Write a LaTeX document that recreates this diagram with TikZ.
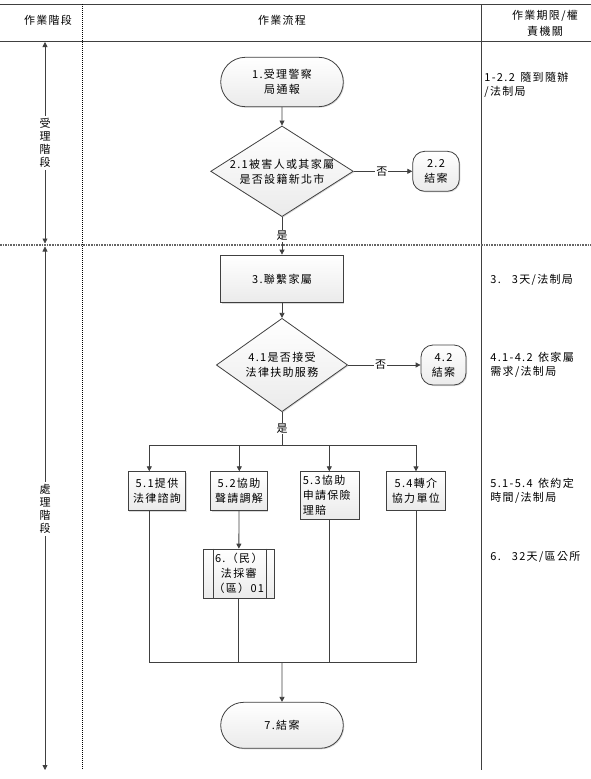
\documentclass[tikz,border=0pt]{standalone}
\usepackage{fontspec}
\setmainfont{Noto Sans CJK TC}[LetterSpace=12]
\usetikzlibrary{arrows.meta,shapes.geometric,shapes.misc,shadows}
\definecolor{lc}{HTML}{404040}

\begin{document}
\begin{tikzpicture}[x=1pt,y=-1pt,line width=0.8pt,
  every node/.style={font=\fontsize{11}{15}\selectfont},
  box/.style={draw=lc, top color=white, bottom color=gray!16, inner sep=0pt, align=center,
    drop shadow={shadow xshift=1pt, shadow yshift=-1pt, fill=black, opacity=.15}},
  term/.style={box, rounded rectangle},
  stopbox/.style={box, rounded corners=12pt},
  dec/.style={box, diamond},
  lbl/.style={fill=white, inner sep=1pt},
  rt/.style={anchor=west, align=left, inner sep=0pt, font=\fontsize{11}{14}\selectfont},
  arr/.style={draw=lc, -{Triangle[length=5pt,width=5pt]}},
  sarr/.style={draw=lc, {Triangle[length=5pt,width=5pt]}-{Triangle[length=5pt,width=5pt]}},
  ln/.style={draw=lc}]
\useasboundingbox (0,0) rectangle (591,779);
\draw[lc] (0,4) -- (591,4);
\draw[lc] (0,41.7) -- (591,41.7);
\draw[black, densely dotted, line width=1pt] (82.3,4) -- (82.3,770);
\draw[lc] (481.7,4) -- (481.7,770);
\draw[gray!80!black, densely dotted, line width=1.6pt] (0,245) -- (591,245);
\node (h1) at (48,20) {作業階段};
\node (h2) at (282,20) {作業流程};
\node[align=center, font=\fontsize{11}{16}\selectfont] (h3) at (545,23) {作業期限/權\\責機關};
\coordinate (s1a) at (45,42);
\coordinate (s1b) at (45,243.5);
\coordinate (s2a) at (45,246.5);
\coordinate (s2b) at (45,770);
\draw[sarr] (s1a) -- (s1b);
\draw[sarr] (s2a) -- (s2b);
\node[fill=white, inner sep=2pt, align=center, font=\fontsize{11}{13}\selectfont] (st1) at (45,143) {受\\理\\階\\段};
\node[fill=white, inner sep=2pt, align=center, font=\fontsize{11}{13}\selectfont] (st2) at (45,509) {處\\理\\階\\段};

\node[term, minimum width=122.6pt, minimum height=49.4pt] (n1) at (282,82) {1.受理警察\\局通報};
\node[dec, minimum width=142.6pt, minimum height=90.7pt] (d21) at (282,171.3) {};
\node[align=center, inner sep=0pt] (d21t) at (d21) {2.1被害人或其家屬\\是否設籍新北市};
\node[stopbox, minimum width=46.6pt, minimum height=40pt] (n22) at (436,171.3) {2.2\\結案};
\node[box, minimum width=122.6pt, minimum height=47.7pt] (n3) at (282,278.9) {3.聯繫家屬};
\node[dec, minimum width=131.3pt, minimum height=93.4pt] (d41) at (282,365) {};
\node[align=center, inner sep=0pt] (d41t) at (d41) {4.1是否接受\\法律扶助服務};
\node[stopbox, minimum width=45pt, minimum height=40pt] (n42) at (443.5,365) {4.2\\結案};
\node[box, minimum width=57.4pt, minimum height=39pt] (b51) at (157,491.2) {5.1提供\\法律諮詢};
\node[box, minimum width=56.6pt, minimum height=39pt] (b52) at (239,491.2) {5.2協助\\聲請調解};
\node[box, minimum width=58.3pt, minimum height=47.6pt, text width=54.3pt, inner xsep=2pt, align=left] (b53) at (329.9,495.5) {5.3協助\\申請保險\\理賠};
\node[box, minimum width=58.3pt, minimum height=38.3pt] (b54) at (415.9,490.9) {5.4轉介\\協力單位};
\node[box, minimum width=71pt, minimum height=49.3pt] (n6) at (238.8,573.7) {6.（民）\\法採審\\（區）01};
\draw[ln] ([xshift=10.7pt]n6.north west) -- ([xshift=10.7pt]n6.south west);
\draw[ln] ([xshift=-8.6pt]n6.north east) -- ([xshift=-8.6pt]n6.south east);
\node[term, minimum width=122.6pt, minimum height=46pt] (n7) at (282,725.3) {7.結案};

\draw[arr] (n1) -- (d21);
\draw[arr] (d21) -- node[lbl, pos=0.48] (no1) {否} (n22);
\draw[arr] (d21) -- node[lbl] (yes1) {是} (n3);
\draw[arr] (n3) -- (d41);
\draw[arr] (d41) -- node[lbl, pos=0.45] (no2) {否} (n42);
\coordinate (br) at (282,445);
\coordinate (br1) at (149.3,445);
\coordinate (br2) at (239.3,445);
\coordinate (br3) at (329.3,445);
\coordinate (br4) at (416,445);
\draw[ln] (d41) -- node[lbl] (yes2) {是} (br);
\draw[ln] (br1) -- (br4);
\draw[arr] (br1) -- (br1 |- b51.north);
\draw[arr] (br2) -- (br2 |- b52.north);
\draw[arr] (br3) -- (br3 |- b53.north);
\draw[arr] (br4) -- (br4 |- b54.north);
\draw[arr] (b52) -- (n6);
\coordinate (jn) at (282,662.3);
\draw[ln] (br1 |- b51.south) -- (br1 |- jn) -- (br4 |- jn) -- (br4 |- b54.south);
\draw[ln] (n6) -- (n6 |- jn);
\draw[ln] (br3 |- b53.south) -- (br3 |- jn);
\draw[arr] (jn) -- (n7);

\node[rt] (r1) at (484,85) {1-2.2\enspace 隨到隨辦\\/法制局};
\node[rt] (r3) at (490,280) {3.\enspace\enspace 3天/法制局};
\node[rt] (r4) at (490,365) {4.1-4.2\enspace 依家屬\\需求/法制局};
\node[rt] (r5) at (490,490.5) {5.1-5.4\enspace 依約定\\時間/法制局};
\node[rt] (r6) at (490,557) {6.\enspace\enspace 32天/區公所};
\end{tikzpicture}
\end{document}
